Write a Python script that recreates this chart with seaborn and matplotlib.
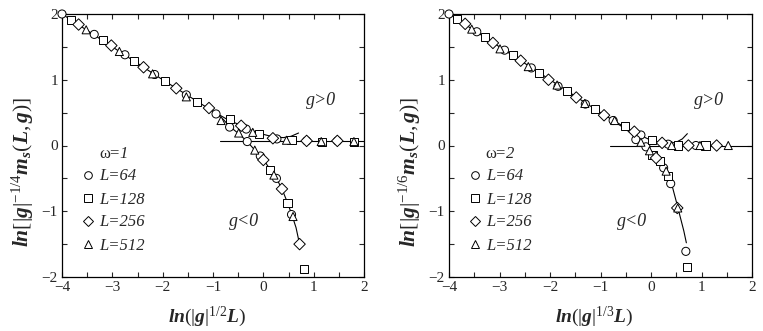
import matplotlib
matplotlib.use('Agg')
import matplotlib.pyplot as plt
import seaborn as sns
import pandas as pd
from matplotlib.lines import Line2D
from matplotlib.ticker import MultipleLocator

sns.set_style('ticks')
plt.rcParams['font.family'] = ['Liberation Serif', 'DejaVu Serif']
plt.rcParams['mathtext.fontset'] = 'custom'
plt.rcParams['mathtext.rm'] = 'Liberation Serif'
plt.rcParams['mathtext.it'] = 'Liberation Serif:italic:bold'
plt.rcParams['mathtext.bf'] = 'Liberation Serif:bold'
plt.rcParams['mathtext.sf'] = 'Liberation Serif:italic'

sizes = [64, 128, 256, 512]
markers = {64: 'o', 128: 's', 256: 'D', 512: '^'}

# omega = 1 (left panel)
x64_w1 = [-4.00, -3.36, -2.75, -2.16, -1.53, -0.94, -0.34, 0.27, 0.86, 1.47,
          -0.67, -0.32, -0.06, 0.26, 0.56]
y64_w1 = [2.00, 1.69, 1.38, 1.08, 0.77, 0.48, 0.25, 0.10, 0.07, 0.07,
          0.28, 0.06, -0.16, -0.50, -1.05]
x128_w1 = [-3.83, -3.19, -2.57, -1.95, -1.32, -0.67, -0.08, 0.56, 1.17, 1.80,
           0.14, 0.48, 0.81]
y128_w1 = [1.91, 1.61, 1.29, 0.98, 0.66, 0.40, 0.17, 0.08, 0.06, 0.06,
           -0.37, -0.88, -1.88]
x256_w1 = [-3.67, -3.02, -2.38, -1.73, -1.08, -0.44, 0.19, 0.86, 1.47,
           0.00, 0.37, 0.72]
y256_w1 = [1.84, 1.52, 1.19, 0.87, 0.57, 0.30, 0.11, 0.07, 0.07,
           -0.22, -0.66, -1.50]
x512_w1 = [-3.52, -2.86, -2.20, -1.53, -0.84, -0.21, 0.46, 1.15, 1.80,
           -0.49, -0.17, 0.21, 0.59]
y512_w1 = [1.76, 1.43, 1.09, 0.74, 0.38, 0.20, 0.08, 0.06, 0.06,
           0.19, -0.07, -0.45, -1.08]

fit_pos_x_w1 = [-4.0, -3.0, -2.0, -1.5, -1.0, -0.7, -0.4, -0.2, 0.0, 0.2, 0.4, 0.55, 0.7]
fit_pos_y_w1 = [2.0, 1.5, 1.0, 0.76, 0.52, 0.39, 0.29, 0.22, 0.17, 0.13, 0.12, 0.14, 0.19]
fit_neg_x_w1 = [-1.0, -0.8, -0.67, -0.49, -0.32, -0.17, 0.0, 0.14, 0.26, 0.37, 0.48, 0.57, 0.65, 0.72]
fit_neg_y_w1 = [0.52, 0.40, 0.29, 0.18, 0.06, -0.07, -0.21, -0.37, -0.50, -0.66, -0.87, -1.06, -1.25, -1.50]
flat_x_w1 = [-0.86, 2.0]
flat_y_w1 = [0.07, 0.07]

# omega = 2 (right panel)
x64_w2 = [-4.00, -3.45, -2.90, -2.37, -1.84, -1.30, -0.75, -0.20, 0.34, 0.89,
          -0.30, -0.10, 0.25, 0.39, 0.69]
y64_w2 = [2.00, 1.73, 1.45, 1.18, 0.90, 0.63, 0.38, 0.16, 0.02, 0.00,
          0.09, -0.02, -0.34, -0.58, -1.61]
x128_w2 = [-3.84, -3.29, -2.74, -2.21, -1.66, -1.11, -0.52, 0.02, 0.54, 1.08,
           0.03, 0.18, 0.34, 0.72]
y128_w2 = [1.92, 1.65, 1.37, 1.10, 0.83, 0.55, 0.30, 0.08, 0.00, 0.00,
           -0.14, -0.24, -0.47, -1.85]
x256_w2 = [-3.68, -3.13, -2.58, -2.03, -1.48, -0.93, -0.33, 0.22, 0.74, 1.30,
           0.10, 0.52]
y256_w2 = [1.85, 1.56, 1.29, 1.00, 0.73, 0.46, 0.21, 0.04, 0.00, 0.00,
           -0.19, -0.95]
x512_w2 = [-3.55, -2.99, -2.43, -1.86, -1.31, -0.72, 0.41, 0.97, 1.53,
           -0.20, -0.03, 0.30, 0.53]
y512_w2 = [1.77, 1.47, 1.20, 0.92, 0.64, 0.38, 0.00, 0.00, 0.00,
           0.05, -0.08, -0.39, -0.95]

fit_pos_x_w2 = [-4.0, -3.0, -2.0, -1.5, -1.0, -0.7, -0.4, -0.2, 0.0, 0.2, 0.35, 0.5, 0.62, 0.72]
fit_pos_y_w2 = [2.0, 1.5, 1.0, 0.75, 0.5, 0.36, 0.23, 0.15, 0.08, 0.04, 0.03, 0.05, 0.10, 0.18]
fit_neg_x_w2 = [-0.8, -0.6, -0.4, -0.2, 0.0, 0.1, 0.2, 0.3, 0.4, 0.5, 0.55, 0.6, 0.65, 0.7]
fit_neg_y_w2 = [0.40, 0.30, 0.19, 0.06, -0.09, -0.17, -0.26, -0.38, -0.56, -0.85, -1.0, -1.15, -1.3, -1.48]
flat_x_w2 = [-0.82, 2.0]
flat_y_w2 = [0.0, 0.0]


def to_frame(xs, ys):
    rows = []
    for L, xv, yv in zip(sizes, xs, ys):
        for a, b in zip(xv, yv):
            rows.append({'x': a, 'y': b, 'L': L})
    return pd.DataFrame(rows)


def draw_panel(ax, df, curves, omega, xlabel, ylabel):
    for cx, cy in curves:
        sns.lineplot(x=cx, y=cy, sort=False, estimator=None, color='black',
                     linewidth=0.8, ax=ax, zorder=1)
    sns.scatterplot(data=df, x='x', y='y', style='L', markers=markers,
                    color='white', edgecolor='black', linewidth=0.7, s=34,
                    legend=False, ax=ax, zorder=3, clip_on=False)

    ax.set_xlim(-4, 2)
    ax.set_ylim(-2, 2)
    ax.xaxis.set_major_locator(MultipleLocator(1))
    ax.yaxis.set_major_locator(MultipleLocator(1))
    ax.xaxis.set_minor_locator(MultipleLocator(0.5))
    ax.yaxis.set_minor_locator(MultipleLocator(0.5))
    ax.tick_params(which='both', direction='in', top=True, right=True,
                   length=3.5, width=0.8, labelsize=11, pad=3)
    for s in ax.spines.values():
        s.set_linewidth(0.9)
        s.set_color('black')

    ax.set_xlabel(xlabel, fontsize=14)
    ax.set_ylabel(ylabel, fontsize=15.5)
    ax.xaxis.set_label_coords(0.48, -0.105)
    ax.yaxis.set_label_coords(-0.085, 0.40)

    ax.text(1.15, 0.69, 'g>0', fontsize=13, style='italic', ha='center', va='center')
    ax.text(-0.38, -1.16, 'g<0', fontsize=13, style='italic', ha='center', va='center')

    handles = [Line2D([], [], marker=markers[L], linestyle='none', markersize=5.5,
                      markerfacecolor='white', markeredgecolor='black',
                      markeredgewidth=0.7) for L in sizes]
    labels = [f'L={L}' for L in sizes]
    ax.legend(handles, labels, title='ω=$\\mathsf{' + str(omega) + '}$', loc='upper left',
              bbox_to_anchor=(0.065, 0.5), frameon=False,
              prop={'style': 'italic', 'size': 12},
              title_fontproperties={'style': 'normal', 'size': 12},
              handletextpad=0.25, handlelength=0.8, labelspacing=0.42,
              borderaxespad=0, borderpad=0)


fig = plt.figure(figsize=(7.63, 3.31), dpi=100)
ax1 = fig.add_axes([62 / 763, 54 / 331, 302 / 763, 263 / 331])
ax2 = fig.add_axes([449 / 763, 54 / 331, 303 / 763, 263 / 331])

df1 = to_frame([x64_w1, x128_w1, x256_w1, x512_w1], [y64_w1, y128_w1, y256_w1, y512_w1])
df2 = to_frame([x64_w2, x128_w2, x256_w2, x512_w2], [y64_w2, y128_w2, y256_w2, y512_w2])

draw_panel(ax1, df1,
           [(fit_pos_x_w1, fit_pos_y_w1), (fit_neg_x_w1, fit_neg_y_w1), (flat_x_w1, flat_y_w1)],
           1, r'$ln(|g|^{1/2}L)$', r'$ln[|g|^{-1/4}m_s(L,g)]$')
draw_panel(ax2, df2,
           [(fit_pos_x_w2, fit_pos_y_w2), (fit_neg_x_w2, fit_neg_y_w2), (flat_x_w2, flat_y_w2)],
           2, r'$ln(|g|^{1/3}L)$', r'$ln[|g|^{-1/6}m_s(L,g)]$')

fig.savefig('out.png', dpi=100)
